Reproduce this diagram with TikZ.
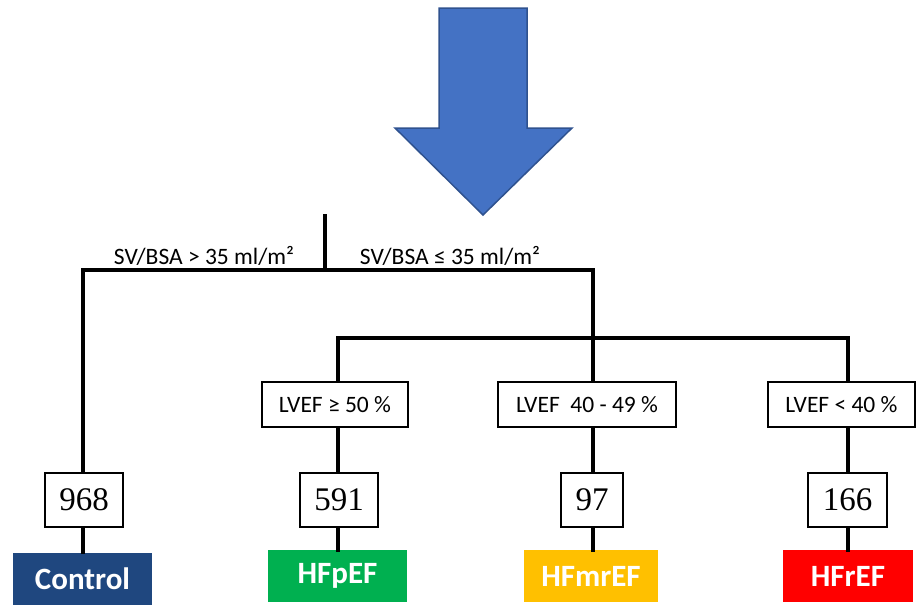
\documentclass[tikz,border=0pt]{standalone}
\usepackage{fontspec}
\setmainfont{Carlito}
\newfontfamily\numfont{Liberation Serif}
\definecolor{arrowblue}{HTML}{4472C4}
\definecolor{arrowedge}{HTML}{2F528F}
\definecolor{ctrlblue}{HTML}{1F477F}
\definecolor{hfgreen}{HTML}{00B050}
\definecolor{hforange}{HTML}{FFC000}
\definecolor{hfred}{HTML}{FF0000}
\tikzset{
  conn/.style={line width=4pt, line cap=rect},
  critbox/.style={draw, line width=1.3pt, minimum height=45pt, inner sep=0pt, font=\fontsize{23.5}{26}\selectfont, fill=white},
  numbox/.style={draw, line width=1.3pt, minimum height=54pt, inner sep=0pt, font=\numfont\fontsize{33}{36}\selectfont, fill=white},
  groupbox/.style={minimum height=52pt, inner sep=0pt, text=white, font=\bfseries\fontsize{31}{36}\selectfont},
  sublabel/.style={font=\fontsize{23.5}{26}\selectfont, inner sep=0pt}
}
\begin{document}
\begin{tikzpicture}[x=1pt,y=-1pt]
\useasboundingbox (0,0) rectangle (920,605);
% big arrow
\filldraw[fill=arrowblue, draw=arrowedge, line width=1.5pt, line join=miter]
  (439,8) -- (527,8) -- (527,128) -- (572,128) -- (483,215) -- (395,128) -- (439,128) -- cycle;
% junction coordinates
\coordinate (top) at (325,216);
\coordinate (j0) at (325,270);
\coordinate (jl) at (83,270);
\coordinate (jr) at (593,270);
\coordinate (k1) at (338,338);
\coordinate (k2) at (593,338);
\coordinate (k3) at (848,338);
% labels
\node[sublabel] (lab1) at (204,256) {SV/BSA > 35 ml/m²};
\node[sublabel] (lab2) at (450,256) {SV/BSA ≤ 35 ml/m²};
% criteria boxes
\node[critbox, minimum width=146pt] (lv1) at (335,404.5) {LVEF ≥ 50 \%};
\node[critbox, minimum width=178pt] (lv2) at (587,404.5) {LVEF \ 40 - 49 \%};
\node[critbox, minimum width=147pt] (lv3) at (841.5,404.5) {LVEF < 40 \%};
% number boxes
\node[numbox, minimum width=78pt] (n1) at (84,500) {968};
\node[numbox, minimum width=78pt] (n2) at (339,500) {591};
\node[numbox, minimum width=62pt] (n3) at (592,500) {97};
\node[numbox, minimum width=79pt] (n4) at (847.5,500) {166};
% group boxes
\node[groupbox, fill=ctrlblue, minimum width=139pt] (g1) at (82.5,578.5) {Control};
\node[groupbox, fill=hfgreen, minimum width=139pt] (g2) at (337.5,576) {HFpEF};
\node[groupbox, fill=hforange, minimum width=134pt] (g3) at (591,576) {HFmrEF};
\node[groupbox, fill=hfred, minimum width=130pt] (g4) at (848,576) {HFrEF};
% connectors
\draw[conn] (top) -- (j0);
\draw[conn] (jl) -- (jr);
\draw[conn] (jl) -- (jl |- n1.north);
\draw[conn] (jr) -- (jr |- lv2.north);
\draw[conn] (k1) -- (k3);
\draw[conn] (k1) -- (k1 |- lv1.north);
\draw[conn] (k3) -- (k3 |- lv3.north);
\draw[conn] (k1 |- lv1.south) -- (k1 |- n2.north);
\draw[conn] (k2 |- lv2.south) -- (k2 |- n3.north);
\draw[conn] (k3 |- lv3.south) -- (k3 |- n4.north);
\draw[conn] (n1.south -| jl) -- (jl |- g1.north);
\draw[conn] (n2.south -| k1) -- (k1 |- g2.north);
\draw[conn] (n3.south -| k2) -- (k2 |- g3.north);
\draw[conn] (n4.south -| k3) -- (k3 |- g4.north);
\end{tikzpicture}
\end{document}
